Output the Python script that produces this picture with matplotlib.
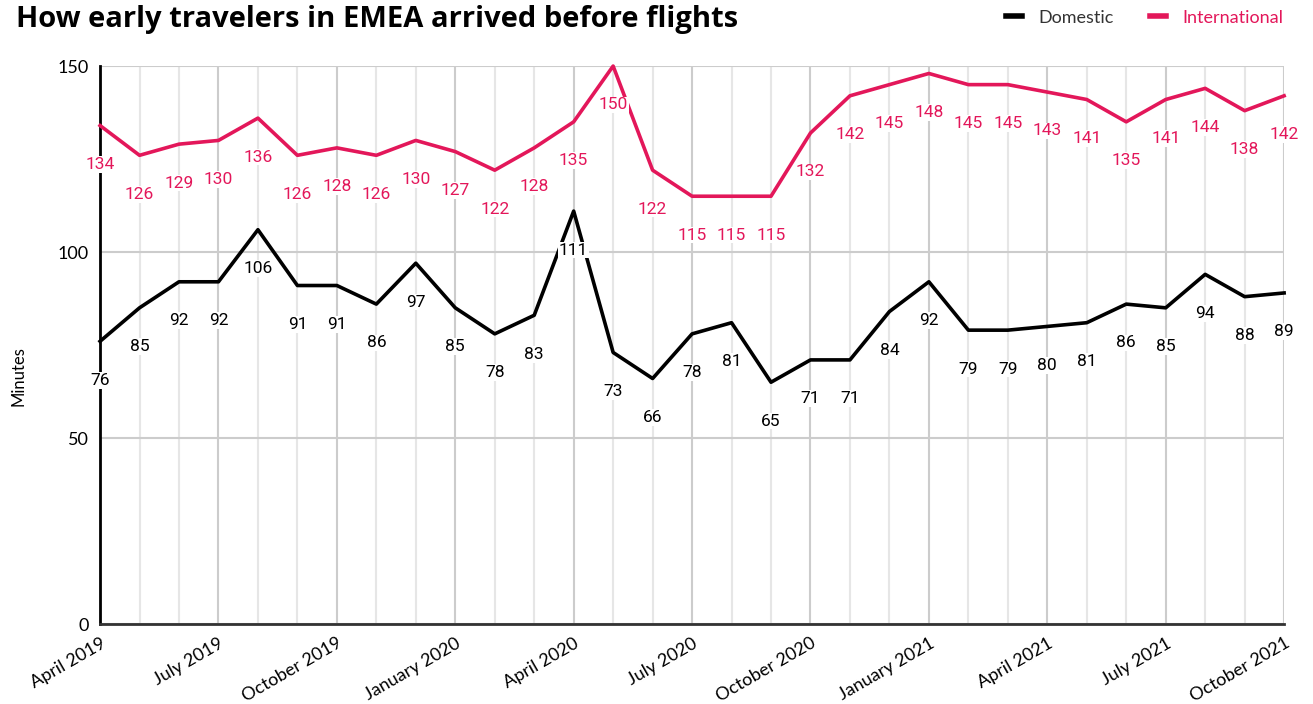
import matplotlib.pyplot as plt
from matplotlib.lines import Line2D

months = ["April 2019", "May 2019", "June 2019", "July 2019", "August 2019", "September 2019",
          "October 2019", "November 2019", "December 2019", "January 2020", "February 2020",
          "March 2020", "April 2020", "May 2020", "June 2020", "July 2020", "August 2020",
          "September 2020", "October 2020", "November 2020", "December 2020", "January 2021",
          "February 2021", "March 2021", "April 2021", "May 2021", "June 2021", "July 2021",
          "August 2021", "September 2021", "October 2021"]
domestic = [76, 85, 92, 92, 106, 91, 91, 86, 97, 85, 78, 83, 111, 73, 66, 78, 81, 65,
            71, 71, 84, 92, 79, 79, 80, 81, 86, 85, 94, 88, 89]
international = [134, 126, 129, 130, 136, 126, 128, 126, 130, 127, 122, 128, 135, 150, 122,
                 115, 115, 115, 132, 142, 145, 148, 145, 145, 143, 141, 135, 141, 144, 138, 142]
y_ticks = [0, 50, 100, 150]

BLACK = "#000000"
PINK = "#E3175A"

fig = plt.figure(figsize=(13.13, 7.04), dpi=100)
ax = fig.add_axes([0.0762, 0.1136, 0.9018, 0.7926])

x = list(range(len(months)))
ax.plot(x, international, color=PINK, lw=2.6, zorder=3, clip_on=False)
ax.plot(x, domestic, color=BLACK, lw=2.6, zorder=3, clip_on=False)

# value labels sit under each point, on a white patch that hides the grid
for vals, col in [(international, PINK), (domestic, BLACK)]:
    for xi, v in zip(x, vals):
        ax.annotate(str(v), (xi, v), xytext=(0, -28), textcoords="offset points",
                    ha="center", va="center", fontsize=12.5, color=col, family="Roboto",
                    zorder=4, annotation_clip=False,
                    bbox=dict(boxstyle="square,pad=0.05", fc="white", ec="none"))

ax.set_xlim(0, len(months) - 1)
ax.set_ylim(0, 150)
ax.set_yticks(y_ticks)
ax.set_yticklabels([str(t) for t in y_ticks], fontsize=13, family="Lato")
ax.set_xticks(x[::3])
ax.set_xticklabels(months[::3], rotation=30, ha="right", rotation_mode="anchor",
                   fontsize=13, family="Lato")
ax.set_xticks(x, minor=True)
ax.tick_params(which="both", length=0)
ax.tick_params(axis="y", pad=8)
ax.tick_params(axis="x", pad=8)

ax.grid(axis="y", color="#cccccc", lw=1.5, zorder=1)
ax.grid(axis="x", which="minor", color="#e6e6e6", lw=1.5, zorder=1)
ax.grid(axis="x", which="major", color="#cccccc", lw=1.5, zorder=1)

for s in ["top", "right"]:
    ax.spines[s].set_visible(False)
ax.spines["left"].set_color(BLACK)
ax.spines["left"].set_linewidth(2)
ax.spines["bottom"].set_color("#333333")
ax.spines["bottom"].set_linewidth(2)
ax.set_axisbelow(True)

ax.set_ylabel("Minutes", fontsize=12, family="Lato")
ax.yaxis.set_label_coords(-0.062, 0.444)

fig.text(0.012, 0.972, "How early travelers in EMEA arrived before flights",
         fontsize=21, fontweight="bold", family="Open Sans", va="center", ha="left")

handles = [Line2D([], [], color=BLACK, lw=4), Line2D([], [], color=PINK, lw=4)]
fig.legend(handles, ["Domestic", "International"], loc="center right",
           bbox_to_anchor=(0.99, 0.975), ncol=2, frameon=False,
           handlelength=0.9, handletextpad=0.9, columnspacing=2.0,
           labelcolor=["#333333", PINK], prop={"family": "Lato", "size": 13})

fig.savefig("out.png", dpi=100)
